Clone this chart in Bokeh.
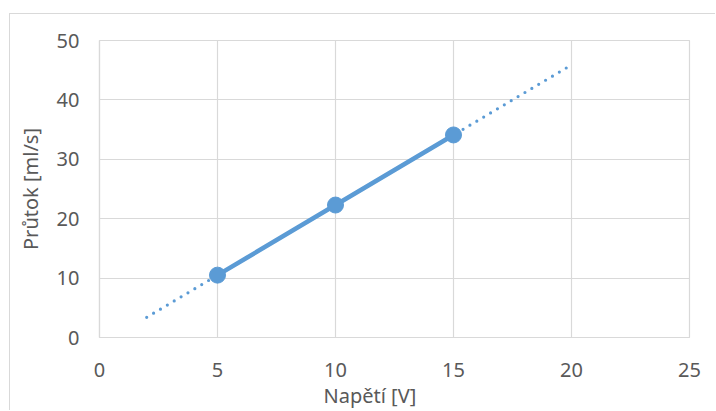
from bokeh.plotting import figure
from bokeh.models import Range1d, FixedTicker, Title
from bokeh.embed import file_html
from bokeh.resources import INLINE

# data
voltage = [5, 10, 15]
flow = [10.5, 22.3, 34.1]
trend_x = [2, 20]
trend_y = [3.4, 45.9]
x_ticks = [0, 5, 10, 15, 20, 25]
y_ticks = [0, 10, 20, 30, 40, 50]
x_title = "Napětí [V]"
y_title = "Průtok [ml/s]"

BLUE = "#5B9BD5"
GRID = "#D9D9D9"
TXT = "#595959"
FONT = "Noto Sans"
FS = "20px"

p = figure(width=706, height=397, output_backend="svg", toolbar_location=None,
           x_range=Range1d(0, 25), y_range=Range1d(0, 50),
           min_border_left=89, min_border_right=27, min_border_top=26, min_border_bottom=74,
           margin=(13, 0, 0, 9),
           styles={"border-top": "1px solid #D9D9D9", "border-left": "1px solid #D9D9D9"})
p.outline_line_color = GRID
p.outline_line_width = 1.2
p.background_fill_color = "white"
p.border_fill_color = "white"

for ax in (p.xaxis[0], p.yaxis[0]):
    ax.major_tick_line_color = None
    ax.minor_tick_line_color = None
    ax.axis_line_color = GRID
    ax.axis_line_width = 1.2
    ax.major_label_text_color = TXT
    ax.major_label_text_font = FONT
    ax.major_label_text_font_size = FS
    ax.axis_label_text_color = TXT
    ax.axis_label_text_font = FONT
    ax.axis_label_text_font_size = FS
    ax.axis_label_text_font_style = "normal"

p.xaxis.ticker = FixedTicker(ticks=x_ticks)
p.yaxis.ticker = FixedTicker(ticks=y_ticks)
p.xaxis.major_label_standoff = 19
p.yaxis.major_label_standoff = 14
p.yaxis.axis_label = y_title
p.yaxis.axis_label_standoff = 10

p.xgrid.grid_line_color = GRID
p.ygrid.grid_line_color = GRID
p.xgrid.grid_line_width = 1.2
p.ygrid.grid_line_width = 1.2

p.line(trend_x, trend_y, line_color=BLUE, line_width=3.2, line_dash="0 8", line_cap="round")
p.line(voltage, flow, line_color=BLUE, line_width=4.5)
p.scatter(voltage, flow, size=16, fill_color=BLUE, line_color=BLUE)

p.add_layout(Title(text=x_title, align="left", offset=224, standoff=0,
                   text_color=TXT, text_font=FONT, text_font_size=FS,
                   text_font_style="normal"), "below")

open("out.html", "w").write(file_html(p, INLINE))
